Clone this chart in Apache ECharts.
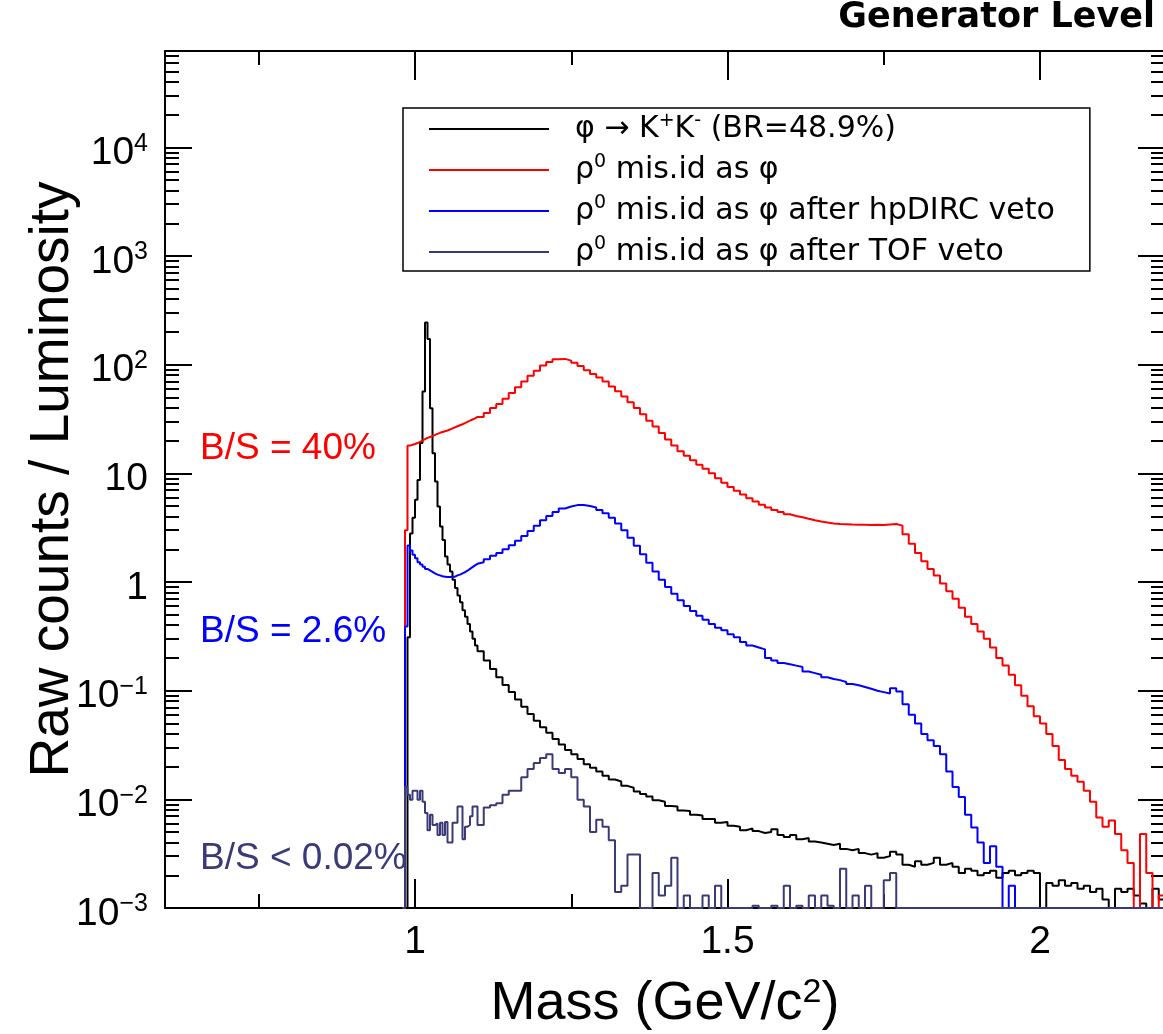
<!DOCTYPE html>
<html>
<head>
<meta charset="utf-8">
<script src="https://cdn.jsdelivr.net/npm/echarts@6/dist/echarts.min.js"></script>
<style>
    html, body { margin: 0; padding: 0; background: #fff; }
    #mass { width: 1163px; height: 1034px; }
</style>
</head>
<body>
<div id="mass"></div>
<script>
// 直方图分箱：phi 峰附近细分箱，之后粗分箱
var FINE_START = 0.98, FINE_WIDTH = 0.004;
var COARSE_START = 1.10, COARSE_WIDTH = 0.01;
var X_MIN = 0.6, X_MAX = 2.2;
var Y_MIN = 0.001, Y_MAX = 77000;

var xMajor = [1, 1.5, 2];
var xMinor = [0.75, 1.25, 1.75];
var yMajor = [0.001, 0.01, 0.1, 1, 10, 100, 1000, 10000];

var seriesNames = [
    'φ → K+K- (BR=48.9%)',
    'ρ0 mis.id as φ',
    'ρ0 mis.id as φ after hpDIRC veto',
    'ρ0 mis.id as φ after TOF veto'
];

// phi -> K+K-, 0.980 .. 1.096 (step 0.004)
var phiFine = [0, 0, 0.31, 2.8, 3.9, 5.7, 8.7, 19, 56.6, 244,
    172, 39.8, 15.3, 8.4, 4.95, 3.24, 2.44, 1.72, 1.45, 1.25,
    1.05, 0.88, 0.75, 0.65, 0.55, 0.48, 0.41, 0.35, 0.30, 0.26];
// 1.10 .. 2.19 (step 0.01)
var phiCoarse = [
    0.23, 0.19, 0.158, 0.133, 0.113, 0.097, 0.083, 0.071, 0.061, 0.053,
    0.046, 0.041, 0.036, 0.032, 0.0285, 0.026, 0.0235, 0.021, 0.0195, 0.018,
    0.0165, 0.0152, 0.0146, 0.0133, 0.0128, 0.0118, 0.0112, 0.0106, 0.0098, 0.0095,
    0.0087, 0.0086, 0.0079, 0.0078, 0.0072, 0.0071, 0.0066, 0.0066, 0.0061, 0.0062,
    0.0057, 0.0056, 0.0052, 0.0054, 0.0051, 0.0049, 0.005, 0.0053, 0.0047, 0.0045,
    0.0047, 0.0043, 0.0044, 0.0041, 0.004, 0.0039, 0.0038, 0.0039, 0.0035, 0.0034,
    0.0035, 0.0032, 0.0031, 0.0032, 0.0029, 0.003, 0.0033, 0.0031, 0.0025, 0.0024,
    0.0027, 0.0025, 0.0026, 0.0029, 0.0025, 0.0026, 0.0024, 0.0021, 0.0023, 0.0022,
    0.002, 0.0021, 0.0022, 0.0019, 0.0021, 0.0022, 0.002, 0.0021, 0.0022, 0.0021,
    0, 0.0017, 0.0016, 0.0018, 0.0016, 0.0017, 0.0015, 0.0016, 0.0014, 0.0015,
    0.0012, 0, 0.0015, 0.0014, 0.0015, 0.0013, 0.0011, 0, 0.0015, 0.0012];

// rho0 mis.id as phi
var rhoFine = [0, 3.0, 18, 18.3, 18.6, 19, 19.5, 20, 20.6, 21.2,
    21.6, 22, 22.6, 23.1, 23.6, 24, 24.4, 24.8, 25.3, 25.9,
    26.5, 27.1, 27.7, 28.3, 29, 29.7, 30.5, 31.3, 32, 33];
var rhoCoarse = [
    33, 36, 40, 43.5, 48.5, 55, 62, 70, 79, 88,
    98, 106, 112, 113, 109, 104, 97, 89, 82, 76,
    70, 63, 57, 51, 45, 40, 35, 30.5, 27, 23.5,
    20.5, 18, 16, 14.5, 13.2, 12, 11, 10, 9, 8.2,
    7.5, 6.9, 6.4, 5.9, 5.5, 5.15, 4.85, 4.6, 4.4, 4.2,
    4.05, 3.95, 3.82, 3.7, 3.6, 3.52, 3.45, 3.42, 3.4, 3.38,
    3.37, 3.36, 3.35, 3.36, 3.34, 3.38, 3.42, 3.3, 2.75, 2.25,
    1.85, 1.55, 1.32, 1.15, 0.97, 0.82, 0.7, 0.58, 0.48, 0.41,
    0.35, 0.3, 0.25, 0.2, 0.17, 0.14, 0.112, 0.09, 0.072, 0.058,
    0.05, 0.04, 0.031, 0.023, 0.019, 0.0165, 0.0145, 0.012, 0.0095, 0.0068,
    0.0056, 0.0064, 0.0048, 0.0034, 0.0026, 0, 0.0048, 0.0021, 0, 0.0013];

// after hpDIRC veto
var dircFine = [0, 0.39, 2.17, 1.95, 1.78, 1.65, 1.52, 1.45, 1.38, 1.32,
    1.28, 1.24, 1.2, 1.17, 1.15, 1.13, 1.12, 1.11, 1.11, 1.12,
    1.12, 1.15, 1.17, 1.2, 1.23, 1.27, 1.32, 1.37, 1.42, 1.47];
var dircCoarse = [
    1.52, 1.62, 1.74, 1.85, 2.0, 2.18, 2.4, 2.65, 2.95, 3.3,
    3.7, 4.05, 4.4, 4.75, 4.95, 5.1, 5.1, 5.0, 4.85, 4.6,
    4.3, 3.9, 3.45, 3.0, 2.55, 2.15, 1.8, 1.5, 1.25, 1.05,
    0.9, 0.78, 0.68, 0.6, 0.54, 0.49, 0.45, 0.41, 0.38, 0.36,
    0.33, 0.31, 0.28, 0.26, 0.25, 0.24, 0.2, 0.19, 0.18, 0.175,
    0.17, 0.165, 0.15, 0.145, 0.14, 0.133, 0.128, 0.125, 0.12, 0.115,
    0.112, 0.108, 0.104, 0.1, 0.097, 0.094, 0.105, 0.098, 0.075, 0.06,
    0.05, 0.04, 0.035, 0.031, 0.026, 0.018, 0.013, 0.0105, 0.0072, 0.0055,
    0.004, 0.0026, 0.0037, 0.0024, 0, 0.0016, 0, 0, 0, 0,
    0, 0, 0, 0, 0, 0, 0, 0, 0, 0,
    0, 0, 0, 0, 0, 0, 0, 0, 0, 0];

// after TOF veto
var tofFine = [0, 0.013, 0.011, 0.0099, 0.012, 0.012, 0.0099, 0.012, 0.0095, 0.0075,
    0.0052, 0.0072, 0.0058, 0.006, 0.0047, 0.0061, 0.0047, 0.0062, 0.004, 0.004,
    0.0061, 0.0061, 0.0086, 0.0086, 0.0043, 0.0056, 0.0058, 0.007, 0.0086, 0.0086];
var tofCoarse = [
    0.0058, 0.0084, 0.0088, 0.0092, 0.011, 0.012, 0.012, 0.016, 0.019, 0.0216,
    0.024, 0.026, 0.019, 0.0175, 0.019, 0.016, 0.0099, 0.0086, 0.005, 0.0065,
    0.0056, 0.0042, 0.0014, 0.0016, 0.0031, 0.0031, 0, 0, 0.0021, 0.0013,
    0.0016, 0.0029, 0, 0.0013, 0, 0, 0.0013, 0, 0.0016, 0,
    0, 0, 0, 0, 0.00105, 0, 0, 0.00105, 0, 0.0016,
    0, 0.00105, 0, 0.0013, 0, 0.0013, 0.00105, 0, 0.0023, 0,
    0.0013, 0, 0.0016, 0, 0, 0.0018, 0.0021, 0, 0, 0,
    0, 0, 0, 0, 0, 0, 0, 0, 0, 0,
    0, 0, 0, 0, 0, 0, 0, 0, 0, 0,
    0, 0, 0, 0, 0, 0, 0, 0, 0, 0,
    0, 0, 0, 0, 0, 0, 0, 0, 0, 0];

var FONT = 'Liberation Sans, Arial, Helvetica, sans-serif';
var WIDE = 'DejaVu Sans, sans-serif';
var NAVY = '#3a3a78';

function binLows(start, width, n) {
    var out = [];
    for (var i = 0; i < n; i++) {
        out.push(+(start + i * width).toFixed(3));
    }
    return out;
}

// 空箱画在下边框上（和 ROOT 一样）
function histData(fine, coarse) {
    var xs = binLows(FINE_START, FINE_WIDTH, fine.length)
        .concat(binLows(COARSE_START, COARSE_WIDTH, coarse.length));
    var ys = fine.concat(coarse);
    var pts = xs.map(function (x, i) {
        return [x, ys[i] > 0 ? ys[i] : Y_MIN];
    });
    pts.push([X_MAX, pts[pts.length - 1][1]]);
    return pts;
}

function yMinorTicks() {
    var out = [];
    yMajor.forEach(function (d) {
        for (var k = 2; k <= 9; k++) {
            var v = +(k * d).toPrecision(2);
            if (v < Y_MAX) out.push(v);
        }
    });
    return out;
}

function powLabel(v) {
    var e = Math.round(Math.log10(v));
    if (e === 0) return '1';
    if (e === 1) return '10';
    return '{b|10}{s|' + (e < 0 ? '\u2212' + (-e) : e) + '}';
}

var tickLine = { color: '#000', width: 2 };

function xAxisDef(grid, position, ticks, len, main) {
    return {
        type: 'value',
        gridIndex: grid,
        position: position,
        min: X_MIN,
        max: X_MAX,
        axisLine: { show: main, onZero: false, lineStyle: tickLine },
        axisTick: { inside: true, length: len, customValues: ticks, lineStyle: tickLine },
        axisLabel: { show: false },
        splitLine: { show: false }
    };
}

function yAxisDef(grid, position, ticks, len, main) {
    return {
        type: 'log',
        logBase: 10,
        gridIndex: grid,
        position: position,
        min: Y_MIN,
        max: Y_MAX,
        axisLine: { show: main, onZero: false, lineStyle: tickLine },
        axisTick: { inside: true, length: len, customValues: ticks, lineStyle: tickLine },
        axisLabel: { show: false },
        splitLine: { show: false }
    };
}

function DrawMass() {
    var chart = echarts.init(document.getElementById('mass'));

    var gridBox = { left: 165, top: 51, right: -2, height: 857, outerBoundsMode: 'none', containLabel: false };

    var xBottom = xAxisDef(0, 'bottom', xMajor, 29, true);
    xBottom.axisLabel = {
        show: true,
        customValues: xMajor,
        fontFamily: FONT,
        fontSize: 39,
        lineHeight: 44,
        color: '#000',
        margin: 12,
        formatter: function (v) { return String(v); }
    };
    xBottom.name = '{m|Mass (GeV/c}{s|2}{m|)}';
    xBottom.nameLocation = 'middle';
    xBottom.nameGap = 68;
    xBottom.nameMoveOverlap = false;
    xBottom.nameTextStyle = {
        color: '#000',
        rich: {
            m: { fontFamily: FONT, fontSize: 54, lineHeight: 56, color: '#000' },
            s: { fontFamily: FONT, fontSize: 34, lineHeight: 20, verticalAlign: 'top', color: '#000' }
        }
    };

    var yLeft = yAxisDef(0, 'left', yMajor, 27, true);
    yLeft.axisLabel = {
        show: true,
        customValues: yMajor,
        fontFamily: FONT,
        fontSize: 39,
        lineHeight: 44,
        color: '#000',
        margin: 17,
        padding: [12, 0, 0, 0],
        formatter: powLabel,
        rich: {
            b: { fontFamily: FONT, fontSize: 39, lineHeight: 44, color: '#000' },
            s: { fontFamily: FONT, fontSize: 25, lineHeight: 14, verticalAlign: 'top', color: '#000' }
        }
    };
    yLeft.name = 'Raw counts / Luminosity';
    yLeft.nameLocation = 'middle';
    yLeft.nameGap = 84;
    yLeft.nameMoveOverlap = false;
    yLeft.nameTextStyle = { fontFamily: FONT, fontSize: 55, lineHeight: 56, color: '#000' };

    var legendText = {};
    legendText[seriesNames[0]] = '{g| }{t|φ → K}{s|+}{t|K}{s|-}{t| (BR=48.9%)}';
    legendText[seriesNames[1]] = '{g| }{t|ρ}{s|0}{t| mis.id as φ}';
    legendText[seriesNames[2]] = '{g| }{t|ρ}{s|0}{t| mis.id as φ after hpDIRC veto}';
    legendText[seriesNames[3]] = '{g| }{t|ρ}{s|0}{t| mis.id as φ after TOF veto}';

    var colors = ['#000000', '#ff0000', '#0000ff', NAVY];
    var hists = [
        histData(phiFine, phiCoarse),
        histData(rhoFine, rhoCoarse),
        histData(dircFine, dircCoarse),
        histData(tofFine, tofCoarse)
    ];

    var option_mass = {
        animation: false,
        backgroundColor: '#fff',
        color: colors,
        grid: [gridBox, gridBox],
        xAxis: [
            xBottom,
            xAxisDef(0, 'top', xMajor, 29, true),
            xAxisDef(1, 'bottom', xMinor, 14, false),
            xAxisDef(1, 'top', xMinor, 14, false)
        ],
        yAxis: [
            yLeft,
            yAxisDef(0, 'right', yMajor, 27, true),
            yAxisDef(1, 'left', yMinorTicks(), 14, false),
            yAxisDef(1, 'right', yMinorTicks(), 14, false)
        ],
        legend: {
            data: seriesNames,
            orient: 'vertical',
            left: 403,
            top: 108,
            padding: [4, 35, 4, 26],
            itemGap: 9,
            itemWidth: 120,
            itemHeight: 2,
            icon: 'rect',
            selectedMode: false,
            borderColor: '#000',
            borderWidth: 1.5,
            backgroundColor: '#fff',
            formatter: function (name) { return legendText[name]; },
            textStyle: {
                color: '#000',
                rich: {
                    g: { width: 21, fontSize: 30, lineHeight: 34 },
                    t: { fontFamily: WIDE, fontSize: 30, lineHeight: 34, color: '#000' },
                    s: { fontFamily: WIDE, fontSize: 19, lineHeight: 18, verticalAlign: 'top', color: '#000' }
                }
            }
        },
        graphic: [
            {
                type: 'text', x: 1155, y: 18,
                style: { text: 'Generator Level', fill: '#000', fontFamily: WIDE, fontWeight: 'bold', fontSize: 35, align: 'right', verticalAlign: 'middle' }
            },
            {
                type: 'text', x: 200, y: 449,
                style: { text: 'B/S = 40%', fill: '#ff0000', fontFamily: FONT, fontSize: 37, align: 'left', verticalAlign: 'middle' }
            },
            {
                type: 'text', x: 200, y: 632,
                style: { text: 'B/S = 2.6%', fill: '#0000ff', fontFamily: FONT, fontSize: 37, align: 'left', verticalAlign: 'middle' }
            },
            {
                type: 'text', x: 200, y: 859,
                style: { text: 'B/S < 0.02%', fill: NAVY, fontFamily: FONT, fontSize: 37, align: 'left', verticalAlign: 'middle' }
            }
        ],
        series: hists.map(function (data, i) {
            return {
                name: seriesNames[i],
                type: 'line',
                xAxisIndex: 0,
                yAxisIndex: 0,
                step: 'end',
                showSymbol: false,
                symbol: 'none',
                clip: true,
                lineStyle: { color: colors[i], width: 2 },
                itemStyle: { color: colors[i] },
                emphasis: { disabled: true },
                data: data
            };
        })
    };
    chart.setOption(option_mass);
}

DrawMass();
</script>
</body>
</html>
